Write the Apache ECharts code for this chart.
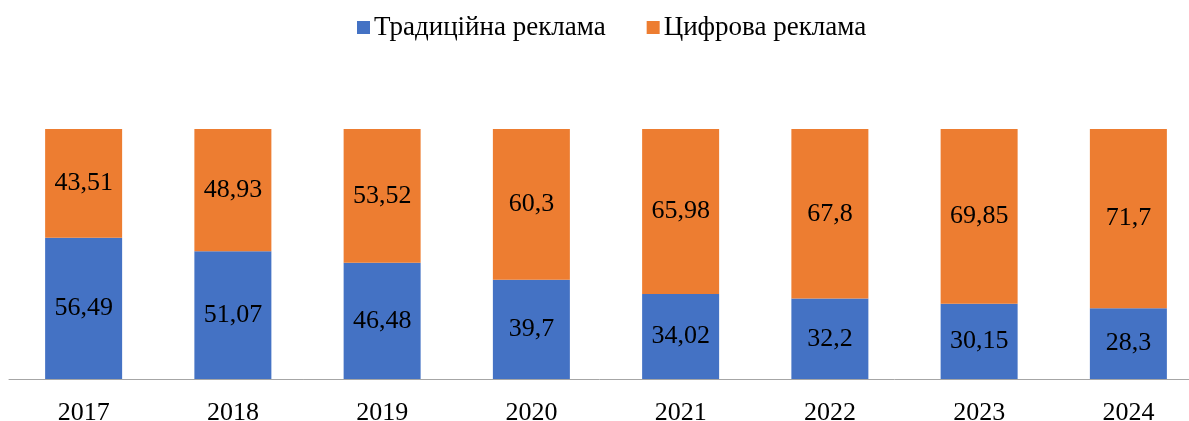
<!DOCTYPE html>
<html>
<head>
<meta charset="utf-8">
<script src="https://cdn.jsdelivr.net/npm/echarts@6/dist/echarts.min.js"></script>
<style>
  html, body { margin: 0; padding: 0; background: #fff; }
  #chart { width: 1189px; height: 421px; }
</style>
</head>
<body>
<div id="chart"></div>
<script>
    var years = ['2017', '2018', '2019', '2020', '2021', '2022', '2023', '2024'];
    var traditional = [56.49, 51.07, 46.48, 39.7, 34.02, 32.2, 30.15, 28.3];
    var digital = [43.51, 48.93, 53.52, 60.3, 65.98, 67.8, 69.85, 71.7];
    var series_names = ['Традиційна реклама', 'Цифрова реклама'];

    var font_family = '"Liberation Serif", "Times New Roman", serif';

    function fmt(p) {
        return String(p.value).replace('.', ',');
    }

    var myChart = echarts.init(document.getElementById('chart'));
    var option = {
        animation: false,
        color: ['#4472C4', '#ED7D31'],
        textStyle: { fontFamily: font_family },
        legend: {
            top: 9,
            left: 352,
            itemWidth: 13,
            itemHeight: 13,
            itemGap: 41,
            icon: 'rect',
            textStyle: { fontFamily: font_family, fontSize: 27, color: '#000', padding: [0, 0, 0, -1] },
            data: series_names
        },
        grid: {
            left: 9,
            top: 129,
            width: 1194,
            height: 250,
            outerBoundsMode: 'none',
            containLabel: false
        },
        xAxis: {
            type: 'category',
            data: years,
            axisTick: { show: false },
            axisLine: { lineStyle: { color: '#A6A6A6', width: 1 } },
            axisLabel: { color: '#000', fontSize: 26, fontFamily: font_family, margin: 21 }
        },
        yAxis: {
            type: 'value',
            min: 0,
            max: 100,
            show: false
        },
        series: [
            {
                name: series_names[0],
                type: 'bar',
                stack: 'total',
                barWidth: 77,
                data: traditional,
                label: { show: true, position: 'inside', color: '#000', fontSize: 26, fontFamily: font_family, formatter: fmt }
            },
            {
                name: series_names[1],
                type: 'bar',
                stack: 'total',
                barWidth: 77,
                data: digital,
                label: { show: true, position: 'inside', color: '#000', fontSize: 26, fontFamily: font_family, formatter: fmt }
            }
        ]
    };
    myChart.setOption(option);
</script>
</body>
</html>
